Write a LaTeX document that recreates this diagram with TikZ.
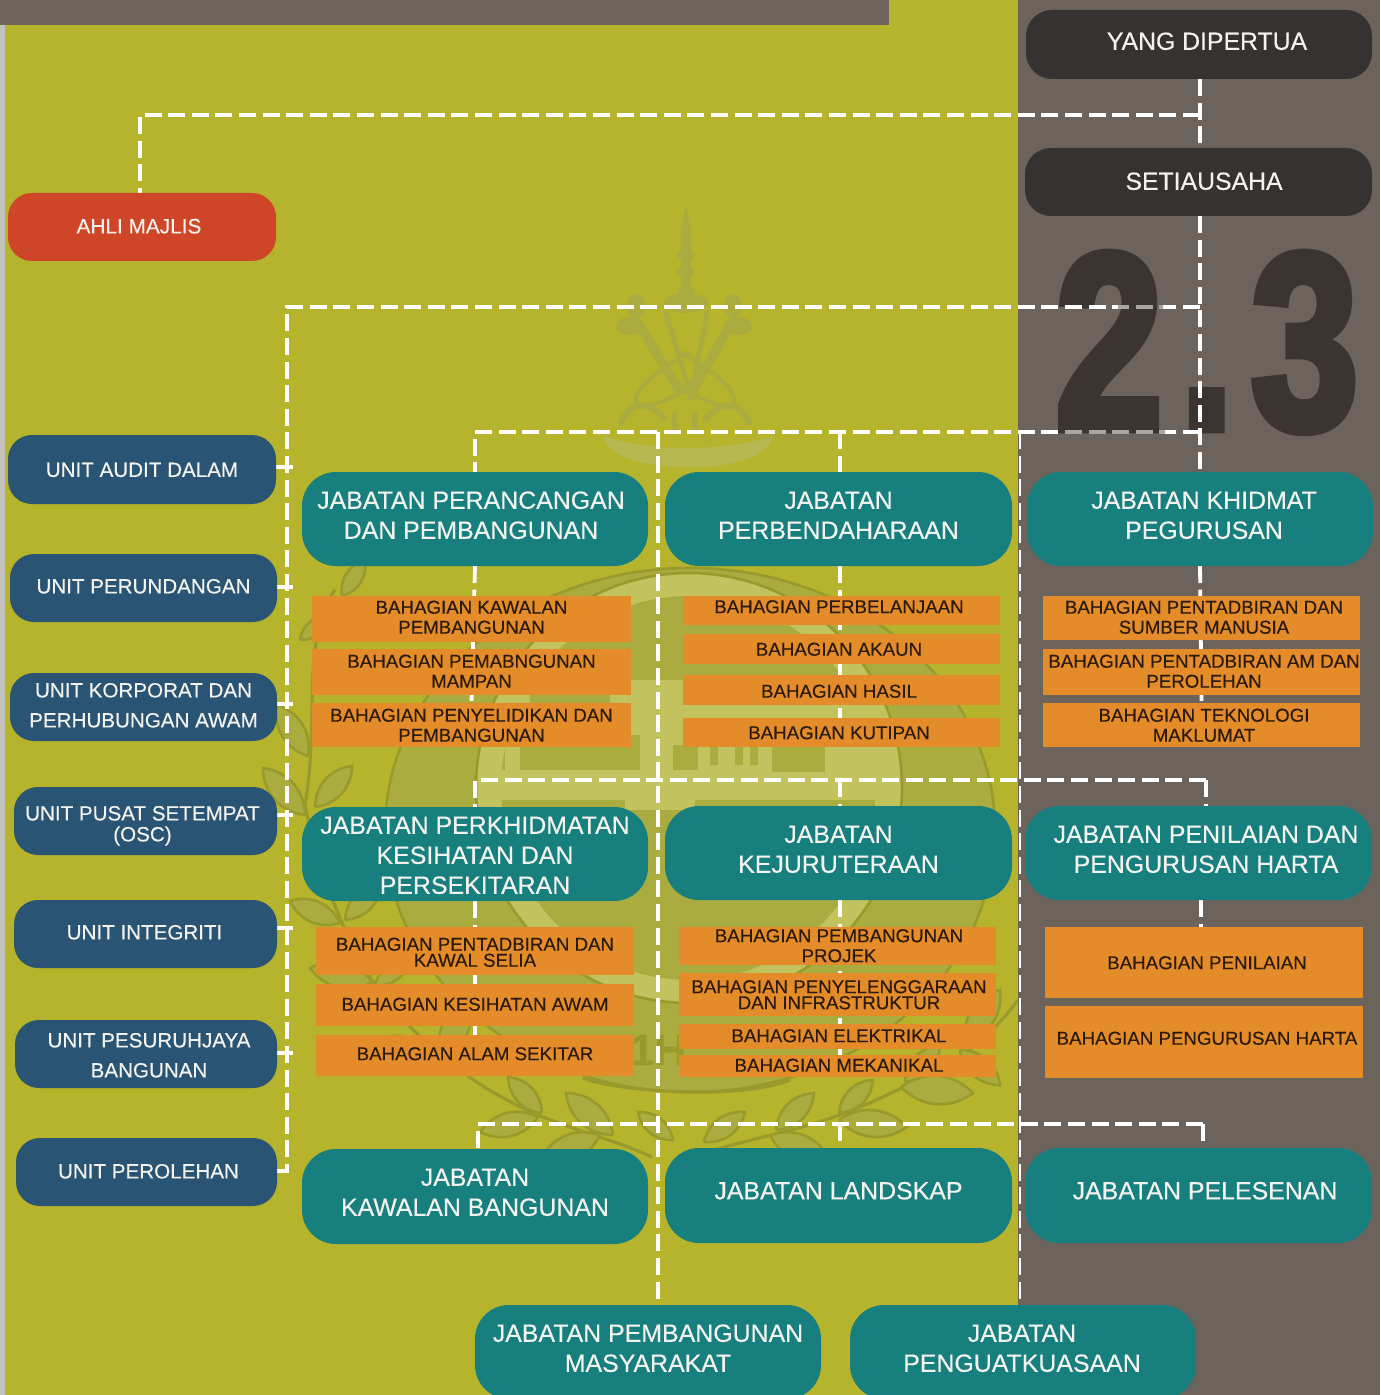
\documentclass[tikz,border=0pt]{standalone}
\usepackage{fontspec}
\setmainfont[FakeBold=0.3]{Liberation Sans}
\newfontfamily\numfont[FakeBold=3.5,FakeStretch=0.76]{Liberation Sans}
\pgfdeclarelayer{bgl}
\pgfdeclarelayer{conns}
\pgfsetlayers{bgl,conns,main}
\definecolor{olivebg}{HTML}{B5B42C}
\definecolor{brownbg}{HTML}{6D635D}
\definecolor{stripgrey}{HTML}{C4C2BD}
\definecolor{darkbox}{HTML}{353231}
\definecolor{numdark}{HTML}{3C3431}
\definecolor{numgrey}{HTML}{A9A5A0}
\definecolor{redbox}{HTML}{CF4527}
\definecolor{bluebox}{HTML}{2A5473}
\definecolor{tealbox}{HTML}{177F7E}
\definecolor{orangebox}{HTML}{E48B2A}
\definecolor{inktext}{HTML}{2A1A10}
\definecolor{boxtext}{HTML}{F3F3EE}
\definecolor{wmdark}{HTML}{999A2C}
\definecolor{wmmid}{HTML}{ABAC40}
\definecolor{wmlight}{HTML}{C2C35E}
\newcommand{\bx}[9]{%
  \node[#1,minimum width={(#5-#3)*0.5pt},minimum height={(#6-#4)*0.5pt}] (#2) at ({(#3+#5)/2},{(#4+#6)/2})
  {\vbox{\hbox{\kern#7pt\begin{tabular}{@{}c@{}}#9\end{tabular}}\kern\dimexpr-#8pt-\ybias\relax}};}
% leaf from base (x1,y1) to tip (x2,y2)
\newcommand{\lf}[4]{%
  \pgfmathsetmacro\vx{#3-#1}\pgfmathsetmacro\vy{#4-#2}%
  \pgfmathsetmacro\ax{#1+.35*\vx-.3*\vy}\pgfmathsetmacro\ay{#2+.35*\vy+.3*\vx}%
  \pgfmathsetmacro\bx{#1+.75*\vx-.22*\vy}\pgfmathsetmacro\by{#2+.75*\vy+.22*\vx}%
  \pgfmathsetmacro\cx{#1+.75*\vx+.22*\vy}\pgfmathsetmacro\cy{#2+.75*\vy-.22*\vx}%
  \pgfmathsetmacro\dx{#1+.35*\vx+.3*\vy}\pgfmathsetmacro\dy{#2+.35*\vy-.3*\vx}%
  \fill[wmmid,draw=wmdark,line width=1.3pt] (#1,#2) .. controls (\ax,\ay) and (\bx,\by) .. (#3,#4) .. controls (\cx,\cy) and (\dx,\dy) .. (#1,#2);}
\tikzset{
  basebox/.style={inner sep=0pt,outer sep=0pt,anchor=center},
  darkb/.style={basebox,rectangle,rounded corners=13pt,fill=darkbox,text=boxtext,font=\fontsize{12.4}{15}\selectfont\def\ybias{2.8pt}},
  redb/.style={basebox,rectangle,rounded corners=12pt,fill=redbox,text=boxtext,font=\fontsize{10.4}{15}\selectfont\def\ybias{1.4pt}},
  blueb/.style={basebox,rectangle,rounded corners=12pt,fill=bluebox,text=boxtext,font=\fontsize{10.3}{15}\selectfont\def\ybias{1.4pt}},
  bluec/.style={blueb,font=\fontsize{10.3}{10}\selectfont\def\ybias{2.7pt}},
  tealb/.style={basebox,rectangle,rounded corners=17pt,fill=tealbox,text=boxtext,font=\fontsize{12.45}{15}\selectfont\def\ybias{1.8pt}},
  orb/.style={basebox,rectangle,fill=orangebox,text=inktext,font=\fontsize{9.35}{10}\selectfont\def\ybias{2.7pt}},
  conn/.style={draw=white,line width=1.9pt,dash pattern=on 8.5pt off 3.3pt},
  connthin/.style={conn,line width=1.3pt},
  tick/.style={draw=white,line width=1.9pt},
  greyover/.style={conn,draw=numgrey},
  stem/.style={draw=wmdark,line width=1.6pt},
}
\begin{document}
\begin{tikzpicture}[x=0.5pt,y=-0.5pt]
\useasboundingbox (0,0) rectangle (1380,1395);
\begin{pgfonlayer}{bgl}
% background
\fill[olivebg] (0,0) rectangle (1018,1395);
\fill[brownbg] (1018,0) rectangle (1380,1395);
\fill[stripgrey] (0,25) rectangle (4.5,1395);
\fill[brownbg] (0,0) rectangle (889,25);
% watermark crest
\begin{scope}
\clip (4.5,25) rectangle (1018,1395);
% spire and finials
\fill[wmmid] (686,207) .. controls (693,225) and (691,260) .. (690,300) -- (682,300) .. controls (681,260) and (679,225) .. (686,207);
\foreach \ky in {255,272,290}{\fill[wmmid] (686,\ky) ellipse [x radius=9,y radius=5];}
\fill[wmmid] (686,303) ellipse [x radius=22,y radius=10];
\fill[wmmid] (636,306) ellipse [x radius=9,y radius=12];
\fill[wmmid] (733,306) ellipse [x radius=9,y radius=12];
\fill[wmmid] (630,326) ellipse [x radius=14,y radius=9];
\fill[wmmid] (738,326) ellipse [x radius=14,y radius=9];
\draw[wmmid,line width=4.5pt] (640,326) -- (682,395);
\draw[wmmid,line width=4.5pt] (730,326) -- (690,395);
\draw[wmmid,line width=2.5pt] (665,310) -- (692,400);
\draw[wmmid,line width=2.5pt] (708,310) -- (690,400);
\draw[wmmid,line width=2pt] (690,352) .. controls (630,385) and (625,410) .. (650,405) .. controls (670,400) and (690,390) .. (700,372);
\draw[wmmid,line width=2pt] (680,352) .. controls (740,385) and (745,410) .. (720,405) .. controls (700,400) and (680,390) .. (672,372);
\draw[wmmid,line width=3pt] (620,425) .. controls (630,400) and (650,400) .. (665,420);
\draw[wmmid,line width=3pt] (750,425) .. controls (740,400) and (720,400) .. (705,420);
\draw[wmmid,line width=3pt] (675,430) -- (675,412);
\draw[wmmid,line width=3pt] (695,430) -- (695,412);
\fill[wmlight!50!wmmid] (603,436) .. controls (650,452) and (725,452) .. (773,436) .. controls (768,478) and (610,478) .. (603,436);
% seal
\fill[wmmid] (690,830) ellipse [x radius=305,y radius=262];
\draw[wmdark,line width=1.3pt] (690,830) ellipse [x radius=305,y radius=262];
\fill[wmlight] (689,788) ellipse [x radius=213,y radius=215];
\fill[wmmid] (689,788) ellipse [x radius=188,y radius=192];
\draw[wmdark,line width=1.3pt] (689,788) ellipse [x radius=213,y radius=215];
% building
\fill[wmlight] (505,680) rectangle (880,810);
\fill[wmlight] (480,770) rectangle (900,800);
\fill[wmmid] (505,800) rectangle (625,900);
\fill[wmmid] (695,800) rectangle (875,900);
\fill[wmmid] (673,745) rectangle (698,770);
\fill[wmmid] (772,745) rectangle (825,772);
\fill[wmmid] (520,735) rectangle (640,770);
\fill[wmmid] (530,690) rectangle (610,735);
\foreach \wx in {710,735,750}{\fill[wmmid] (\wx,745) rectangle ++(8,20);}
\node[text=wmdark,font=\bfseries\fontsize{22}{22}\selectfont] (sealtext) at (658,1050) {1H};
% laurel, left
\draw[stem] (335,590) .. controls (300,640) and (320,720) .. (305,805) .. controls (320,880) and (350,950) .. (385,1000) .. controls (430,1050) and (470,1085) .. (538,1115) .. controls (580,1132) and (620,1142) .. (652,1157);
\lf{342}{596}{365}{560}
\lf{300}{640}{330}{615}
\lf{308}{756}{277}{705}
\lf{320}{742}{345}{705}
\lf{305}{815}{263}{768}
\lf{315}{807}{352}{766}
\lf{340}{923}{290}{901}
\lf{345}{920}{382}{882}
\lf{372}{982}{310}{968}
\lf{375}{985}{410}{960}
\lf{430}{1050}{370}{1045}
\lf{440}{1058}{470}{1000}
\lf{542}{1113}{508}{1077}
\lf{538}{1117}{480}{1132}
\lf{613}{1135}{566}{1093}
\lf{673}{1140}{638}{1112}
\lf{600}{1135}{540}{1160}
% laurel, right
\draw[stem] (1018,1000) .. controls (980,1050) and (950,1065) .. (904,1087) .. controls (870,1103) and (842,1117) .. (780,1133) .. controls (750,1140) and (720,1148) .. (690,1157);
\lf{704}{1142}{745}{1112}
\lf{776}{1130}{814}{1093}
\lf{839}{1113}{873}{1080}
\lf{839}{1120}{907}{1127}
\lf{901}{1087}{973}{1093}
\lf{905}{1082}{940}{1045}
\lf{960}{1050}{1000}{1085}
\lf{965}{1042}{1000}{990}
\lf{770}{1135}{830}{1160}
\draw[wmdark,line width=1.6pt] (583,1078) .. controls (620,1092) and (740,1100) .. (790,1080);
\end{scope}
% large numeral
\node[text=numdark,inner sep=0pt,anchor=base,font=\numfont\bfseries\fontsize{126}{126}\selectfont] (secnum) at (1207,429) {2\kern9pt.\kern9pt3};
\end{pgfonlayer}
% connector junctions
\coordinate (jA) at (1200,115);
\coordinate (jB) at (1200,307);
\coordinate (jC) at (1200,432);
\coordinate (aT) at (140,115);
\coordinate (railT) at (287,307);
\coordinate (railB) at (287,1171);
\coordinate (c1) at (475,432);
\coordinate (c2) at (658,432);
\coordinate (c3) at (840,432);
\coordinate (c4) at (1020,432);
\coordinate (mL) at (475,780);
\coordinate (mM) at (840,780);
\coordinate (mR) at (1206,780);
\coordinate (bL) at (478,1124);
\coordinate (bM) at (840,1124);
\coordinate (bR) at (1203,1124);
% top row
\bx{darkb}{yang}{1026}{10}{1372}{79}{8}{-3.5}{YANG DIPERTUA}
\bx{darkb}{setia}{1025}{148}{1372}{216}{5.5}{-1}{SETIAUSAHA}
\bx{redb}{ahli}{8}{193}{276}{261}{-3}{-1}{AHLI MAJLIS}
% units
\bx{blueb}{audit}{8}{435}{276}{504}{0}{0}{UNIT AUDIT DALAM}
\bx{blueb}{perund}{10}{554}{277}{622}{0}{-2}{UNIT PERUNDANGAN}
\bx{blueb}{korp}{10}{673}{277}{741}{0}{-2}{UNIT KORPORAT DAN\\PERHUBUNGAN AWAM}
\bx{bluec}{pusat}{14}{787}{277}{855}{-3}{3}{UNIT PUSAT SETEMPAT\\(OSC)}
\bx{blueb}{integ}{14}{900}{277}{968}{-1}{-2}{UNIT INTEGRITI}
\bx{blueb}{pesur}{15}{1020}{277}{1088}{3}{1}{UNIT PESURUHJAYA\\BANGUNAN}
\bx{blueb}{perol}{16}{1138}{277}{1206}{2}{-1}{UNIT PEROLEHAN}
% departments
\bx{tealb}{dPeran}{302}{472}{648}{566}{-4}{-3}{JABATAN PERANCANGAN\\DAN PEMBANGUNAN}
\bx{tealb}{dBenda}{665}{472}{1012}{566}{0}{-3}{JABATAN\\PERBENDAHARAAN}
\bx{tealb}{dKhid}{1027}{472}{1373}{566}{4}{-3}{JABATAN KHIDMAT\\PEGURUSAN}
\bx{tealb}{dKes}{302}{807}{648}{901}{0}{2}{JABATAN PERKHIDMATAN\\KESIHATAN DAN\\PERSEKITARAN}
\bx{tealb}{dJurut}{665}{806}{1012}{900}{0}{-3}{JABATAN\\KEJURUTERAAN}
\bx{tealb}{dNilai}{1025}{806}{1372}{900}{7.5}{-3}{JABATAN PENILAIAN DAN\\PENGURUSAN HARTA}
\bx{tealb}{dKawal}{302}{1149}{648}{1244}{0}{-3.5}{JABATAN\\KAWALAN BANGUNAN}
\bx{tealb}{dLand}{665}{1148}{1012}{1243}{0}{-4}{JABATAN LANDSKAP}
\bx{tealb}{dLesen}{1025}{1148}{1372}{1243}{6.5}{-4}{JABATAN PELESENAN}
\bx{tealb}{dMasy}{475}{1305}{821}{1399}{0}{-3}{JABATAN PEMBANGUNAN\\MASYARAKAT}
\bx{tealb}{dKuat}{850}{1305}{1196}{1399}{-1}{-3}{JABATAN\\PENGUATKUASAAN}
% sections
\bx{orb}{a1}{312}{596}{631}{642}{0}{-2}{BAHAGIAN KAWALAN\\PEMBANGUNAN}
\bx{orb}{a2}{312}{649}{631}{695}{0}{-1}{BAHAGIAN PEMABNGUNAN\\MAMPAN}
\bx{orb}{a3}{312}{703}{631}{747}{0}{0}{BAHAGIAN PENYELIDIKAN DAN\\PEMBANGUNAN}
\bx{orb}{b1}{683}{596}{1000}{625}{-2.5}{-4}{BAHAGIAN PERBELANJAAN}
\bx{orb}{b2}{683}{634}{1000}{664}{-2.5}{0}{BAHAGIAN AKAUN}
\bx{orb}{b3}{683}{675}{1000}{705}{-2.5}{1}{BAHAGIAN HASIL}
\bx{orb}{b4}{683}{718}{1000}{747}{-2.5}{0}{BAHAGIAN KUTIPAN}
\bx{orb}{e1}{1043}{596}{1360}{640}{2.5}{-1}{BAHAGIAN PENTADBIRAN DAN\\SUMBER MANUSIA}
\bx{orb}{e2}{1043}{649}{1360}{695}{2.5}{-1}{BAHAGIAN PENTADBIRAN AM DAN\\PEROLEHAN}
\bx{orb}{e3}{1043}{703}{1360}{747}{2.5}{0}{BAHAGIAN TEKNOLOGI\\MAKLUMAT}
\bx{orb}{f1}{316}{927}{634}{975}{0}{1}{BAHAGIAN PENTADBIRAN DAN\\[-2pt]KAWAL SELIA}
\bx{orb}{f2}{316}{984}{634}{1026}{0}{-1}{BAHAGIAN KESIHATAN AWAM}
\bx{orb}{f3}{316}{1035}{634}{1076}{0}{-2}{BAHAGIAN ALAM SEKITAR}
\bx{orb}{g1}{679}{927}{996}{965}{1.5}{-.5}{BAHAGIAN PEMBANGUNAN\\PROJEK}
\bx{orb}{g2}{679}{973}{996}{1016}{1.5}{0}{BAHAGIAN PENYELENGGARAAN\\[-2pt]DAN INFRASTRUKTUR}
\bx{orb}{g3}{679}{1024}{996}{1049}{1.5}{-1}{BAHAGIAN ELEKTRIKAL}
\bx{orb}{g4}{679}{1055}{996}{1077}{1.5}{-1}{BAHAGIAN MEKANIKAL}
\bx{orb}{h1}{1045}{927}{1363}{998}{3}{0}{BAHAGIAN PENILAIAN}
\bx{orb}{h2}{1045}{1006}{1363}{1078}{3}{-4}{BAHAGIAN PENGURUSAN HARTA}
% connectors, behind the boxes
\begin{pgfonlayer}{conns}
\draw[conn] (yang.south -| jA) -- (setia.north -| jA);
\draw[conn] (setia.south -| jA) -- (dKhid.north -| jA);
\draw[conn] (jA) -- (aT) -- (aT |- ahli.north);
\draw[conn] (jB) -- (railT) -- (railB) -- (railB -| perol.east);
\draw[tick] (audit.east |- 0,467) -- (293,467);
\draw[tick] (perund.east |- 0,587) -- (293,587);
\draw[tick] (korp.east |- 0,704) -- (293,704);
\draw[tick] (pusat.east |- 0,815) -- (293,815);
\draw[tick] (integ.east |- 0,928) -- (293,928);
\draw[tick] (pesur.east |- 0,1053) -- (293,1053);
\draw[conn] (jC) -- (c1) -- (dPeran.north);
\draw[conn] (c3) -- (c3 |- dBenda.north);
\draw[conn] (c2) -- (c2 |- dMasy.north);
\draw[connthin] (c4) -- (c4 |- dKuat.north);
\draw[conn] (dPeran.south) -- (a3.north);
\draw[conn] (dBenda.south -| c3) -- (b4.north -| c3);
\draw[conn] (dKhid.south) -- (e3.north);
\draw[conn] (mR) -- (mL) -- (dKes.north);
\draw[conn] (mM) -- (mM |- dJurut.north);
\draw[conn] (mR) -- (mR |- dNilai.north);
\draw[conn] (dKes.south) -- (f3.north);
\draw[conn] (dJurut.south -| mM) -- (g4.north -| mM);
\draw[conn] (dNilai.south -| 1201,0) -- (h1.north -| 1201,0);
\draw[conn] (bR) -- (bL) -- (bL |- dKawal.north);
\draw[conn] (bM) -- (bM |- dLand.north);
\draw[conn] (bR) -- (bR |- dLesen.north);
\begin{scope}
\clip (1118,296) rectangle (1163,316) (1060,422) rectangle (1165,442);
\draw[greyover] (jB) -- (railT);
\draw[greyover] (jC) -- (c1);
\end{scope}
\end{pgfonlayer}
\end{tikzpicture}
\end{document}
